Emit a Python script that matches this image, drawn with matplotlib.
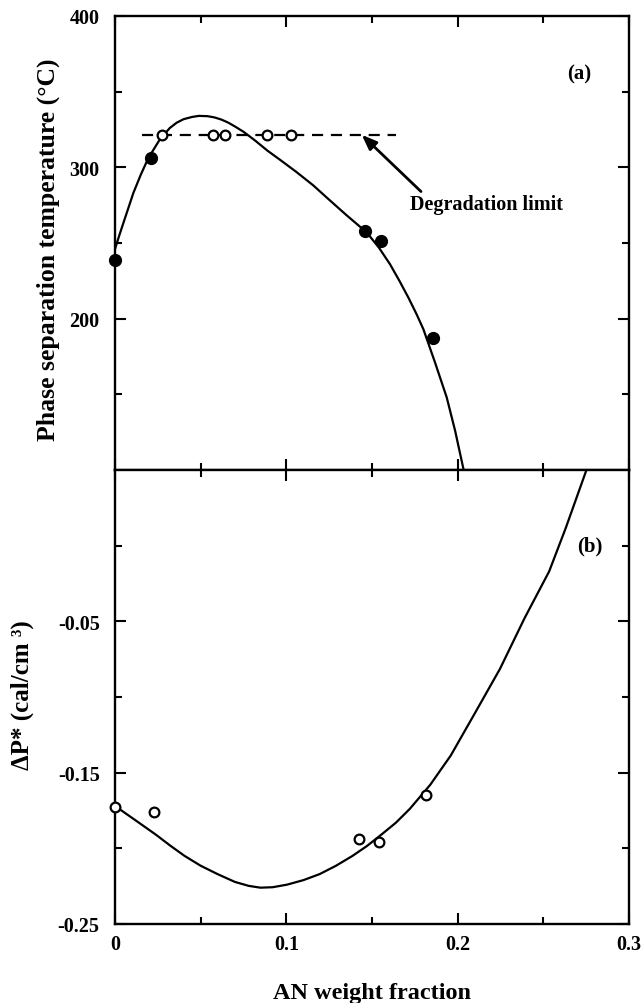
import matplotlib
matplotlib.use("Agg")
import matplotlib.pyplot as plt
from matplotlib.ticker import FixedLocator, NullFormatter, FixedFormatter

plt.rcParams['font.family'] = ['Liberation Serif', 'DejaVu Serif']
plt.rcParams['font.weight'] = 'bold'
plt.rcParams['axes.labelweight'] = 'bold'

# ---- (a) phase separation temperature ----
an_filled = [0.000, 0.021, 0.146, 0.1555, 0.1857]
temp_filled = [239, 306, 257.6, 251, 187]

an_open_a = [0.0274, 0.057, 0.0643, 0.0886, 0.103]
temp_open_a = [321.5, 321.5, 321.5, 321.5, 321.5]

curve_a_x = [0.000, 0.0025, 0.005, 0.0107, 0.015, 0.0194, 0.0263, 0.032, 0.036,
             0.040, 0.045, 0.049, 0.054, 0.058, 0.062, 0.066, 0.070, 0.075,
             0.082, 0.089, 0.0963, 0.1058, 0.1158, 0.1236, 0.135, 0.1469,
             0.154, 0.1605, 0.166, 0.1712, 0.176, 0.180, 0.1868, 0.1936,
             0.1985, 0.2035]
curve_a_y = [246, 255, 263.6, 283, 295, 306, 318.7, 326, 329.5,
             331.8, 333.3, 334, 333.8, 333, 331.6, 329.6, 327, 323.5,
             317.5, 311, 305, 297, 288, 280, 268.5, 257,
             247, 236, 225, 214, 203, 193, 171, 148,
             126, 100]

degradation_x = [0.0155, 0.164]
degradation_y = [321.5, 321.5]

# ---- (b) ΔP* ----
an_open_b = [0.000, 0.0227, 0.1427, 0.154, 0.1817]
dp_open_b = [-0.1724, -0.176, -0.194, -0.1957, -0.1648]

curve_b_x = [0.000, 0.012, 0.0239, 0.032, 0.0406, 0.050, 0.0598, 0.070, 0.078,
             0.0849, 0.092, 0.1004, 0.110, 0.1195, 0.129, 0.1386, 0.147,
             0.1554, 0.164, 0.172, 0.184, 0.196, 0.2104, 0.2247, 0.239,
             0.2534, 0.263, 0.275]
curve_b_y = [-0.172, -0.1815, -0.191, -0.198, -0.205, -0.2115, -0.217, -0.2222,
             -0.2248, -0.226, -0.2257, -0.224, -0.221, -0.217, -0.2115, -0.205,
             -0.1985, -0.191, -0.183, -0.174, -0.158, -0.1386, -0.110, -0.0814,
             -0.048, -0.017, 0.0114, 0.0495]

x_major = [0.0, 0.1, 0.2, 0.3]
x_minor = [0.05, 0.15, 0.25]
x_labels = ['0', '0.1', '0.2', '0.3']
a_major = [200, 300, 400]
a_minor = [150, 250, 350]
b_major = [-0.25, -0.15, -0.05]
b_minor = [-0.2, -0.1, 0.0]
b_labels = ['-0.25', '-0.15', '-0.05']

W, H = 643, 1004
fig = plt.figure(figsize=(W / 100, H / 100), dpi=100)
left, right = 115, 629
top, mid, bottom = 17, 471, 925
ax1 = fig.add_axes([left / W, 1 - mid / H, (right - left) / W, (mid - top) / H])
ax2 = fig.add_axes([left / W, 1 - bottom / H, (right - left) / W, (bottom - mid) / H])

lw = 1.6
for ax in (ax1, ax2):
    for s in ax.spines.values():
        s.set_linewidth(1.7)
    ax.set_xlim(0, 0.3)
    ax.xaxis.set_major_locator(FixedLocator(x_major))
    ax.xaxis.set_minor_locator(FixedLocator(x_minor))
    ax.tick_params(which='both', direction='in', top=True, right=True,
                   width=1.5, labelsize=14.5)
    ax.tick_params(which='major', length=8)
    ax.tick_params(which='minor', length=5)
    ax.tick_params(axis='y', pad=11)
    ax.tick_params(axis='x', pad=7)

# panel (a)
ax1.set_ylim(100, 400)
ax1.yaxis.set_major_locator(FixedLocator(a_major))
ax1.yaxis.set_minor_locator(FixedLocator(a_minor))
ax1.xaxis.set_major_formatter(NullFormatter())
ax1.plot(curve_a_x, curve_a_y, color='black', lw=lw, solid_joinstyle='round')
ax1.plot(degradation_x, degradation_y, color='black', lw=1.6, dashes=(5, 3.5))
ax1.plot(an_open_a, temp_open_a, 'o', ms=7, mfc='white', mec='black', mew=1.6,
         clip_on=False, zorder=5)
ax1.plot(an_filled, temp_filled, 'o', ms=8.5, color='black', clip_on=False, zorder=5)
ax1.annotate('', xy=(0.144, 321.5), xytext=(0.1786, 284),
             arrowprops=dict(arrowstyle='-|>,head_length=0.9,head_width=0.35',
                             color='black', lw=2.0, shrinkA=0, shrinkB=0))
ax1.text(0.172, 276, 'Degradation limit', fontsize=14.5, ha='left', va='center')
ax1.text(0.271, 362, '(a)', fontsize=15, ha='center', va='center')

# panel (b)
ax2.set_ylim(-0.25, 0.05)
ax2.yaxis.set_major_locator(FixedLocator(b_major))
ax2.yaxis.set_major_formatter(FixedFormatter(b_labels))
ax2.yaxis.set_minor_locator(FixedLocator(b_minor))
ax2.xaxis.set_major_formatter(FixedFormatter(x_labels))
ax2.plot(curve_b_x, curve_b_y, color='black', lw=lw, solid_joinstyle='round')
ax2.plot(an_open_b, dp_open_b, 'o', ms=7, mfc='white', mec='black', mew=1.6,
         clip_on=False, zorder=5)
ax2.text(0.277, 0.0, '(b)', fontsize=15, ha='center', va='center')

# axis titles
fig.text(48 / W, 1 - 250 / H, 'Phase separation temperature (°C)', fontsize=18.5,
         rotation=90, ha='center', va='center', rotation_mode='anchor')
fig.text(22 / W, 1 - 695 / H, 'ΔP* (cal/cm ³)', fontsize=18,
         rotation=90, ha='center', va='center', rotation_mode='anchor')
fig.text((left + right) / 2 / W, 1 - 994 / H, 'AN weight fraction',
         fontsize=17.5, ha='center', va='center')

fig.savefig('out.png', dpi=100)
